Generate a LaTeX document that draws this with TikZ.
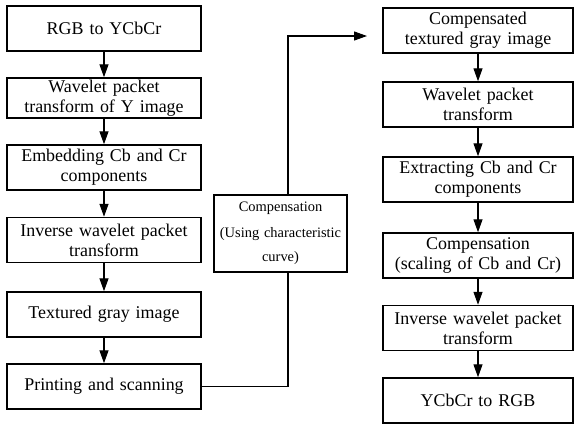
\documentclass[tikz,border=0pt]{standalone}
\usepackage{fontspec}
\setmainfont{Liberation Serif}
\usetikzlibrary{arrows.meta}

\begin{document}
\begin{tikzpicture}[
    x=1bp, y=-1bp,
    box/.style={rectangle, draw, line width=1.5bp, text width=188bp, align=center, minimum width=194bp, minimum height=45bp, inner sep=0pt, font=\fontsize{18}{20}\selectfont},
    rbox/.style={box, minimum width=190bp, text width=186bp},
    midbox/.style={rectangle, draw, line width=1.1bp, fill=white, text width=130bp, align=center, minimum width=133bp, minimum height=77bp, inner sep=0pt, font=\fontsize{14.5}{24}\selectfont},
    arrow/.style={-{Triangle[length=13bp, width=9bp]}, line width=1.3bp},
    link/.style={line width=1.1bp}
  ]
    \useasboundingbox (0,0) rectangle (574,428);

    % Left column - embedding
    \node[box] (rgb) at (104,28.5) {RGB to YCbCr};
    \node[box, minimum height=40bp] (wpt) at (104,98) {Wavelet packet\\transform of Y image};
    \node[box] (embed) at (104,167.5) {Embedding Cb and Cr\\components};
    \node[box] (iwpt) at (104,240) {Inverse wavelet packet\\transform};
    \node[box] (gray) at (104,314.5) {Textured gray image};
    \node[box] (print) at (104,386.5) {Printing and scanning};

    % Middle - compensation
    \node[midbox] (comp) at (280.5,233.5) {Compensation\\[2bp](Using characteristic\\curve)};

    % Right column - extraction
    \node[rbox] (cgray) at (478,30.5) {Compensated\\textured gray image};
    \node[rbox] (wpt2) at (478,104.5) {Wavelet packet\\transform};
    \node[rbox] (extract) at (478,179.5) {Extracting Cb and Cr\\components};
    \node[rbox] (scale) at (478,255.5) {Compensation\\(scaling of Cb and Cr)};
    \node[rbox] (iwpt2) at (478,328) {Inverse wavelet packet\\transform};
    \node[rbox] (ycc) at (478,400.5) {YCbCr to RGB};

    \coordinate (tip) at (367,36);

    % Arrows - left column
    \draw[arrow] (rgb) -- (wpt);
    \draw[arrow] (wpt) -- (embed);
    \draw[arrow] (embed) -- (iwpt);
    \draw[arrow] (iwpt) -- (gray);
    \draw[arrow] (gray) -- (print);

    % Arrows - through the compensation
    \draw[link] (print.east) -| ([xshift=7.5bp]comp.south);
    \draw[arrow, line width=1.1bp] ([xshift=7.5bp]comp.north) |- (tip);

    % Arrows - right column
    \draw[arrow] (cgray) -- (wpt2);
    \draw[arrow] (wpt2) -- (extract);
    \draw[arrow] (extract) -- (scale);
    \draw[arrow] (scale) -- (iwpt2);
    \draw[arrow] (iwpt2) -- (ycc);

  \end{tikzpicture}
\end{document}
